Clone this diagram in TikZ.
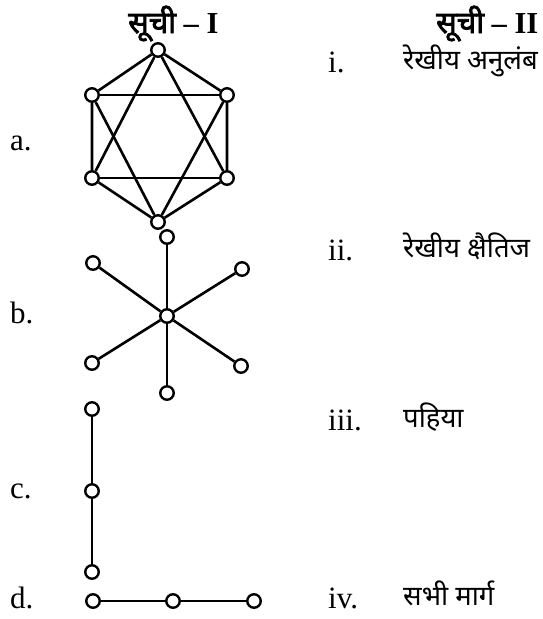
\documentclass[tikz,border=0pt]{standalone}
\usepackage{fontspec}
\setmainfont{Liberation Serif}
\newfontfamily\hindi[Script=Devanagari]{Noto Sans}
\newfontfamily\hindibold[Script=Devanagari, FakeBold=2.5]{Noto Sans}
\usetikzlibrary{positioning}

\begin{document}
\begin{tikzpicture}[
    x=1pt, y=-1pt,
    vertex/.style={circle, draw, line width=2.4pt, fill=white, inner sep=0pt, minimum size=13.5pt},
    edge/.style={line width=2.6pt},
    label/.style={anchor=base west, inner sep=0pt, font=\fontsize{31}{36}\selectfont},
    item/.style={anchor=base west, inner sep=0pt, font=\hindi\fontsize{27.5}{32}\selectfont},
    header/.style={anchor=base west, inner sep=0pt, font=\fontsize{30.5}{34}\selectfont\bfseries}
]
\useasboundingbox (0,0) rectangle (543,619);

% Headers
\node[header] (head1) at (128,33) {{\hindibold सूची} – I};
\node[header] (head2) at (436,33) {{\hindibold सूची} – II};

% Left labels
\node[label] (la) at (10,150) {a.};
\node[label] (lb) at (10,323) {b.};
\node[label] (lc) at (10,498) {c.};
\node[label] (ld) at (10,608) {d.};

% Right labels
\node[label] (li) at (328,72) {i.};
\node[label] (lii) at (328,260) {ii.};
\node[label] (liii) at (328,430) {iii.};
\node[label] (liv) at (328,608) {iv.};
\node[item] (ti) at (403,69) {रेखीय अनुलंब};
\node[item] (tii) at (403,257) {रेखीय क्षैतिज};
\node[item] (tiii) at (403,427) {पहिया};
\node[item] (tiv) at (403,605) {सभी मार्ग};

% Graph a
\node[vertex] (at) at (158,50) {};
\node[vertex] (aul) at (92,95) {};
\node[vertex] (aur) at (227,95) {};
\node[vertex] (all) at (92,178) {};
\node[vertex] (alr) at (227,178) {};
\node[vertex] (ab) at (158,222) {};
\draw[edge] (at) -- (aul) -- (all) -- (ab) -- (alr) -- (aur) -- (at);
\draw[edge] (aul) -- (aur);
\draw[edge] (all) -- (alr);
\draw[edge] (at) -- (all);
\draw[edge] (at) -- (alr);
\draw[edge] (ab) -- (aul);
\draw[edge] (ab) -- (aur);

% Graph b
\node[vertex] (bc) at (167,316) {};
\node[vertex] (bt) at (167,237) {};
\node[vertex] (bul) at (93,263) {};
\node[vertex] (bur) at (242,269) {};
\node[vertex] (bll) at (92,363) {};
\node[vertex] (blr) at (241,366) {};
\node[vertex] (bb) at (167,393) {};
\draw[edge] (bc) -- (bt);
\draw[edge] (bc) -- (bul);
\draw[edge] (bc) -- (bur);
\draw[edge] (bc) -- (bll);
\draw[edge] (bc) -- (blr);
\draw[edge] (bc) -- (bb);

% Graph c
\node[vertex] (ct) at (92,409) {};
\node[vertex] (cm) at (92,491) {};
\node[vertex] (cb) at (92,572) {};
\draw[edge] (ct) -- (cm) -- (cb);

% Graph d
\node[vertex] (dl) at (93,601) {};
\node[vertex] (dm) at (173,601) {};
\node[vertex] (dr) at (254,601) {};
\draw[edge] (dl) -- (dm) -- (dr);

\end{tikzpicture}
\end{document}
